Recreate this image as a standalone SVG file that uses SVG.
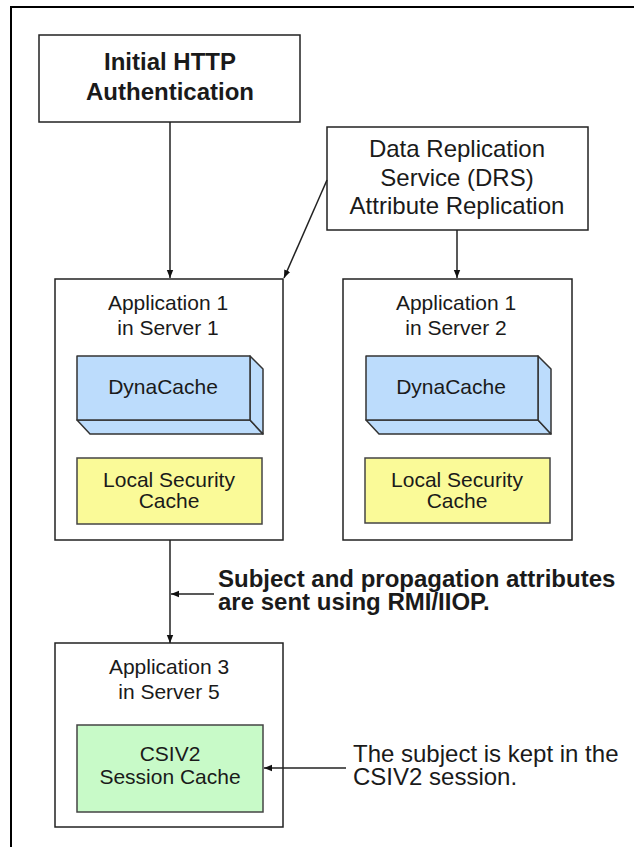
<svg xmlns="http://www.w3.org/2000/svg" width="634" height="847" viewBox="0 0 634 847">
<style>
.box{fill:#fff;stroke:#222;stroke-width:1.5}
.t{font-family:"Liberation Sans",Arial,sans-serif;fill:#1a1a1a;text-anchor:middle}
.r21{font-size:21px}
.r24{font-size:24px}
.b24{font-size:24px;font-weight:bold}
.l{text-anchor:start}
.blue{fill:#bcdcfc;stroke:#333;stroke-width:1.5;stroke-linejoin:round}
.yel{fill:#fafa98;stroke:#444;stroke-width:1.5}
.grn{fill:#c8fac8;stroke:#444;stroke-width:1.5}
.c{fill:none;stroke:#222;stroke-width:1.5}
</style>
<defs>
<marker id="ah" viewBox="0 0 10 10" refX="10" refY="5" markerWidth="8" markerHeight="8" markerUnits="userSpaceOnUse" orient="auto">
<path d="M0,1 L10,5 L0,9 Z" fill="#111"/>
</marker>
</defs>
<rect width="634" height="847" fill="#fff"/>
<path d="M11,847 V7 H634" fill="none" stroke="#000" stroke-width="2"/>

<g id="http-auth">
<rect class="box" x="39" y="35" width="261" height="87"/>
<text class="t b24" x="170" y="70">Initial HTTP</text>
<text class="t b24" x="170" y="100">Authentication</text>
</g>

<g id="drs">
<rect class="box" x="327" y="127" width="261" height="103"/>
<text class="t r24" x="457" y="157">Data Replication</text>
<text class="t r24" x="457" y="186">Service (DRS)</text>
<text class="t r24" x="457" y="214">Attribute Replication</text>
</g>

<g id="server1">
<rect class="box" x="55" y="279" width="228" height="261"/>
<text class="t r21" x="168" y="310">Application 1</text>
<text class="t r21" x="168" y="335">in Server 1</text>
<g id="dynacache1">
<polygon class="blue" points="77,420 90,434 263,434 250,420"/>
<polygon class="blue" points="250,356 263,369 263,434 250,420"/>
<rect class="blue" x="77" y="356" width="173" height="64"/>
<text class="t r21" x="163" y="394">DynaCache</text>
</g>
<g id="lsc1">
<rect class="yel" x="77" y="458" width="185" height="66"/>
<text class="t r21" x="169" y="487">Local Security</text>
<text class="t r21" x="169" y="508">Cache</text>
</g>
</g>

<g id="server2">
<rect class="box" x="343" y="279" width="229" height="261"/>
<text class="t r21" x="456" y="310">Application 1</text>
<text class="t r21" x="456" y="335">in Server 2</text>
<g id="dynacache2">
<polygon class="blue" points="366,420 379,434 551,434 538,420"/>
<polygon class="blue" points="538,356 551,369 551,434 538,420"/>
<rect class="blue" x="366" y="356" width="172" height="64"/>
<text class="t r21" x="451" y="394">DynaCache</text>
</g>
<g id="lsc2">
<rect class="yel" x="365" y="458" width="185" height="65"/>
<text class="t r21" x="457" y="487">Local Security</text>
<text class="t r21" x="457" y="508">Cache</text>
</g>
</g>

<g id="note-rmi">
<text class="t b24 l" x="218" y="587">Subject and propagation attributes</text>
<text class="t b24 l" x="218" y="610">are sent using RMI/IIOP.</text>
</g>

<g id="server5">
<rect class="box" x="55" y="643" width="228" height="184"/>
<text class="t r21" x="169" y="674">Application 3</text>
<text class="t r21" x="169" y="699">in Server 5</text>
<g id="csiv2">
<rect class="grn" x="77" y="725" width="186" height="87"/>
<text class="t r21" x="170" y="761">CSIV2</text>
<text class="t r21" x="170" y="784">Session Cache</text>
</g>
</g>

<g id="note-csiv2">
<text class="t r24 l" x="353" y="762">The subject is kept in the</text>
<text class="t r24 l" x="353" y="785">CSIV2 session.</text>
</g>

<g id="connectors">
<line class="c" x1="170" y1="122" x2="170" y2="278" marker-end="url(#ah)"/>
<line class="c" x1="327" y1="180" x2="284" y2="278" marker-end="url(#ah)"/>
<line class="c" x1="457" y1="230" x2="457" y2="278" marker-end="url(#ah)"/>
<line class="c" x1="170" y1="540" x2="170" y2="643" marker-end="url(#ah)" stroke="#444"/>
<line class="c" x1="214" y1="594" x2="171" y2="594" marker-end="url(#ah)"/>
<line class="c" x1="346" y1="768" x2="264" y2="768" marker-end="url(#ah)"/>
</g>
</svg>
